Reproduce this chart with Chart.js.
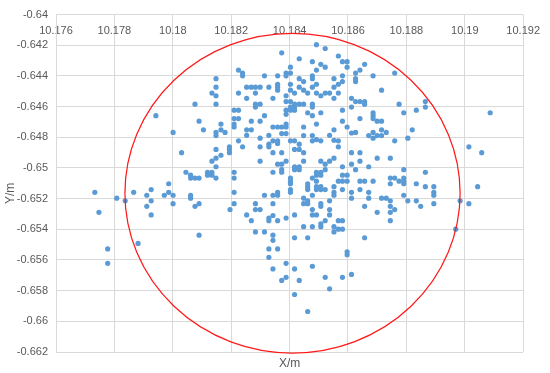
<!DOCTYPE html>
<html>
<head>
<meta charset="utf-8">
<script src="https://cdn.jsdelivr.net/npm/chart.js@4.4.1/dist/chart.umd.min.js"></script>
<style>
  html, body { margin: 0; padding: 0; background: #ffffff; }
  canvas { display: block; }
</style>
</head>
<body>
<canvas id="chart" width="550" height="373"></canvas>
<script>
// axis ranges and ticks
const xMin = 10.176, xMax = 10.192, xStep = 0.002;
const yMin = -0.662, yMax = -0.64, yStep = 0.002;
const xTitle = 'X/m';
const yTitle = 'Y/m';

// red circle drawn on the plot (centre and radii in axis units)
const circleCenterX = 10.18410;
const circleCenterY = -0.65165;
const circleRadiusX = 0.00574;
const circleRadiusY = 0.01042;

// measured points
const xValues = [
  10.17733, 10.17747, 10.17777, 10.17777, 10.17808, 10.17837, 10.17866, 10.17881, 10.17911, 10.17911,
  10.17926, 10.17926, 10.17926, 10.17942, 10.17971, 10.17986, 10.17986, 10.18001, 10.18001, 10.18001,
  10.18030, 10.18045, 10.18061, 10.18061, 10.18076, 10.18090, 10.18061, 10.18061, 10.18076, 10.18090,
  10.18090, 10.18076, 10.18090, 10.18105, 10.18119, 10.18119, 10.18134, 10.18134, 10.18148, 10.18134,
  10.18148, 10.18165, 10.18148, 10.18148, 10.18134, 10.18148, 10.18148, 10.18148, 10.18148, 10.18148,
  10.18148, 10.18165, 10.18165, 10.18179, 10.18194, 10.18194, 10.18194, 10.18210, 10.18225, 10.18210,
  10.18225, 10.18210, 10.18210, 10.18225, 10.18225, 10.18239, 10.18239, 10.18225, 10.18253, 10.18269,
  10.18283, 10.18299, 10.18283, 10.18253, 10.18283, 10.18299, 10.18283, 10.18314, 10.18359, 10.18373,
  10.18329, 10.18359, 10.18359, 10.18359, 10.18343, 10.18314, 10.18269, 10.18299, 10.18253, 10.18269,
  10.18253, 10.18299, 10.18343, 10.18359, 10.18373, 10.18373, 10.18329, 10.18343, 10.18359, 10.18403,
  10.18388, 10.18403, 10.18388, 10.18403, 10.18403, 10.18388, 10.18417, 10.18388, 10.18403, 10.18417,
  10.18403, 10.18417, 10.18403, 10.18417, 10.18433, 10.18448, 10.18388, 10.18388, 10.18388, 10.18388,
  10.18388, 10.18403, 10.18417, 10.18433, 10.18433, 10.18448, 10.18433, 10.18448, 10.18462, 10.18478,
  10.18492, 10.18522, 10.18507, 10.18522, 10.18492, 10.18478, 10.18478, 10.18478, 10.18492, 10.18492,
  10.18507, 10.18522, 10.18537, 10.18552, 10.18552, 10.18567, 10.18581, 10.18581, 10.18567, 10.18552,
  10.18567, 10.18581, 10.18597, 10.18597, 10.18626, 10.18641, 10.18626, 10.18626, 10.18657, 10.18686,
  10.18760, 10.18715, 10.18612, 10.18626, 10.18641, 10.18657, 10.18657, 10.18612, 10.18775, 10.18865,
  10.18865, 10.18834, 10.18791, 10.19087, 10.18686, 10.18686, 10.18686, 10.18641, 10.18700, 10.18715,
  10.18715, 10.18731, 10.18820, 10.18626, 10.18686, 10.18671, 10.18700, 10.18715, 10.18686, 10.18760,
  10.18805, 10.18462, 10.18478, 10.18478, 10.18478, 10.18507, 10.18581, 10.18448, 10.18492, 10.18581,
  10.18552, 10.18597, 10.18612, 10.18448, 10.18478, 10.18492, 10.18552, 10.18567, 10.18537, 10.18507,
  10.18567, 10.18239, 10.18299, 10.18329, 10.18329, 10.18359, 10.18417, 10.18433, 10.18433, 10.18448,
  10.18478, 10.18612, 10.18641, 10.18299, 10.18343, 10.18373, 10.18359, 10.18373, 10.18388, 10.18373,
  10.18373, 10.18343, 10.18417, 10.18417, 10.18433, 10.18433, 10.18448, 10.18507, 10.18522, 10.18537,
  10.18552, 10.18581, 10.18612, 10.18641, 10.18210, 10.18210, 10.18403, 10.18403, 10.18403, 10.18403,
  10.18403, 10.18492, 10.18507, 10.18522, 10.18492, 10.18507, 10.18478, 10.18492, 10.18462, 10.18462,
  10.18462, 10.18492, 10.18507, 10.18492, 10.18507, 10.18522, 10.18552, 10.18552, 10.18552, 10.18567,
  10.18581, 10.18597, 10.18581, 10.18597, 10.18581, 10.18612, 10.18612, 10.18210, 10.18210, 10.18196,
  10.18314, 10.18343, 10.18359, 10.18359, 10.18343, 10.18448, 10.18462, 10.18448, 10.18462, 10.18478,
  10.18283, 10.18283, 10.18299, 10.18253, 10.18269, 10.18329, 10.18329, 10.18343, 10.18359, 10.18388,
  10.18417, 10.18478, 10.18478, 10.18492, 10.18507, 10.18507, 10.18537, 10.18537, 10.18537, 10.18522,
  10.18507, 10.18507, 10.18448, 10.18478, 10.18567, 10.18581, 10.18552, 10.18552, 10.18567, 10.18581,
  10.18283, 10.18314, 10.18343, 10.18343, 10.18417, 10.18462, 10.18657, 10.18329, 10.18359, 10.18329,
  10.18597, 10.18597, 10.18388, 10.18478, 10.18343, 10.18417, 10.18388, 10.18373, 10.18433, 10.18522,
  10.18581, 10.18612, 10.18537, 10.18417, 10.18462, 10.19014, 10.19058, 10.18700, 10.18745, 10.18626,
  10.18671, 10.18791, 10.18865, 10.18641, 10.18657, 10.18686, 10.18745, 10.18760, 10.18745, 10.18775,
  10.18791, 10.18791, 10.18791, 10.18834, 10.18865, 10.18894, 10.18894, 10.18894, 10.19044, 10.18641,
  10.18671, 10.18671, 10.18715, 10.18731, 10.18791, 10.18745, 10.18805, 10.18834, 10.18984, 10.19014,
  10.18894, 10.18849, 10.18657, 10.18745, 10.18760, 10.18700, 10.18745, 10.18745, 10.18969
];
const yValues = [
  -0.65159, -0.65289, -0.65528, -0.65622, -0.65197, -0.65214, -0.65159, -0.65492, -0.65178, -0.65250,
  -0.65141, -0.65214, -0.65306, -0.64659, -0.65178, -0.65159, -0.65103, -0.64768, -0.65178, -0.65233,
  -0.64900, -0.65028, -0.65047, -0.65066, -0.65066, -0.65066, -0.65178, -0.65197, -0.65250, -0.65233,
  -0.65438, -0.64584, -0.64695, -0.64751, -0.65028, -0.65047, -0.65028, -0.65047, -0.65066, -0.64956,
  -0.64936, -0.64917, -0.64992, -0.64879, -0.64512, -0.64418, -0.64473, -0.64529, -0.64584, -0.64768,
  -0.64789, -0.64714, -0.64751, -0.64768, -0.64862, -0.64879, -0.64900, -0.64623, -0.64623, -0.64678,
  -0.64678, -0.64714, -0.64733, -0.64823, -0.64362, -0.64381, -0.64399, -0.64512, -0.64473, -0.64473,
  -0.64473, -0.64473, -0.64512, -0.64546, -0.64584, -0.64584, -0.64603, -0.64399, -0.64399, -0.64249,
  -0.64473, -0.64454, -0.64473, -0.64493, -0.64546, -0.64659, -0.64695, -0.64695, -0.64751, -0.64751,
  -0.64787, -0.64806, -0.64733, -0.64733, -0.64733, -0.64776, -0.64787, -0.64823, -0.64823, -0.64343,
  -0.64381, -0.64381, -0.64399, -0.64454, -0.64493, -0.64529, -0.64512, -0.64567, -0.64567, -0.64584,
  -0.64603, -0.64603, -0.64623, -0.64623, -0.64584, -0.64584, -0.64623, -0.64650, -0.64714, -0.64733,
  -0.64776, -0.64823, -0.64823, -0.64288, -0.64418, -0.64437, -0.64473, -0.64493, -0.64512, -0.64307,
  -0.64196, -0.64221, -0.64324, -0.64343, -0.64362, -0.64399, -0.64418, -0.64473, -0.64454, -0.64512,
  -0.64529, -0.64512, -0.64512, -0.64418, -0.64473, -0.64454, -0.64437, -0.64399, -0.64512, -0.64546,
  -0.64270, -0.64307, -0.64307, -0.64343, -0.64381, -0.64362, -0.64418, -0.64437, -0.64324, -0.64399,
  -0.64381, -0.64493, -0.64546, -0.64567, -0.64567, -0.64567, -0.64584, -0.64603, -0.64584, -0.64567,
  -0.64603, -0.64623, -0.64640, -0.64640, -0.64640, -0.64659, -0.64678, -0.64678, -0.64695, -0.64695,
  -0.64751, -0.64768, -0.64751, -0.64768, -0.64768, -0.64789, -0.64789, -0.64789, -0.64806, -0.64823,
  -0.64806, -0.64640, -0.64584, -0.64603, -0.64659, -0.64640, -0.64623, -0.64733, -0.64714, -0.64695,
  -0.64751, -0.64733, -0.64772, -0.64789, -0.64789, -0.64815, -0.64820, -0.64823, -0.64787, -0.64823,
  -0.64862, -0.64862, -0.64862, -0.64845, -0.64862, -0.64840, -0.64879, -0.64879, -0.64845, -0.64900,
  -0.64823, -0.64900, -0.64900, -0.64956, -0.64900, -0.64900, -0.64975, -0.64975, -0.64956, -0.65011,
  -0.65028, -0.65028, -0.64992, -0.65011, -0.64992, -0.65011, -0.64956, -0.64956, -0.64975, -0.64956,
  -0.64936, -0.64992, -0.64975, -0.64956, -0.65028, -0.65066, -0.65066, -0.65086, -0.65103, -0.65141,
  -0.65159, -0.65028, -0.65028, -0.65011, -0.65047, -0.65047, -0.65066, -0.65086, -0.65103, -0.65122,
  -0.65141, -0.65122, -0.65122, -0.65141, -0.65141, -0.65141, -0.65122, -0.65159, -0.65178, -0.65086,
  -0.65047, -0.65047, -0.65086, -0.65086, -0.65141, -0.65159, -0.65197, -0.65159, -0.65233, -0.65271,
  -0.65178, -0.65178, -0.65159, -0.65178, -0.65233, -0.65197, -0.65214, -0.65233, -0.65233, -0.65178,
  -0.65233, -0.65271, -0.65271, -0.65306, -0.65344, -0.65327, -0.65344, -0.65310, -0.65344, -0.65327,
  -0.65306, -0.65271, -0.65306, -0.65306, -0.65233, -0.65250, -0.65214, -0.65271, -0.65306, -0.65344,
  -0.65364, -0.65383, -0.65383, -0.65383, -0.65344, -0.65344, -0.65383, -0.65417, -0.65399, -0.65399,
  -0.65417, -0.65417, -0.65438, -0.65472, -0.65455, -0.65455, -0.65455, -0.65528, -0.65528, -0.65583,
  -0.65547, -0.65566, -0.65622, -0.65641, -0.65658, -0.65658, -0.65713, -0.65733, -0.65733, -0.65713,
  -0.65713, -0.65694, -0.65788, -0.65825, -0.65936, -0.64862, -0.64900, -0.64936, -0.64936, -0.65011,
  -0.64992, -0.65011, -0.65028, -0.65086, -0.65086, -0.65086, -0.65066, -0.65066, -0.65103, -0.65086,
  -0.65066, -0.65086, -0.65103, -0.65103, -0.65122, -0.65122, -0.65159, -0.65178, -0.65122, -0.65141,
  -0.65159, -0.65197, -0.65197, -0.65197, -0.65178, -0.65214, -0.65214, -0.65214, -0.65214, -0.65233,
  -0.65233, -0.65250, -0.65250, -0.65250, -0.65271, -0.65289, -0.65289, -0.65344, -0.65399
];

const points = xValues.map((x, i) => ({ x: x, y: yValues[i] }));

const textColor = '#595959';
const gridColor = '#d9d9d9';
const fontFamily = '"Liberation Sans", Arial, sans-serif';

function trimNumber(v) {
    return String(Number(v.toFixed(3)));
}

// dessine l'ellipse rouge avec les échelles du graphique
const circlePlugin = {
    id: 'redCircle',
    afterDatasetsDraw(chart) {
        const ctx = chart.ctx;
        const xs = chart.scales.x;
        const ys = chart.scales.y;
        const cx = xs.getPixelForValue(circleCenterX);
        const cy = ys.getPixelForValue(circleCenterY);
        const rx = Math.abs(xs.getPixelForValue(circleCenterX + circleRadiusX) - cx);
        const ry = Math.abs(ys.getPixelForValue(circleCenterY + circleRadiusY) - cy);
        ctx.save();
        ctx.beginPath();
        ctx.ellipse(cx, cy, rx, ry, 0, 0, Math.PI * 2);
        ctx.strokeStyle = '#ff1a1a';
        ctx.lineWidth = 1.25;
        ctx.stroke();
        ctx.restore();
    }
};

new Chart(document.getElementById('chart').getContext('2d'), {
    type: 'scatter',
    data: {
        datasets: [{
            data: points,
            backgroundColor: '#5b9bd5',
            borderWidth: 0,
            pointRadius: 2.6,
            pointHoverRadius: 2.6
        }]
    },
    options: {
        responsive: false,
        animation: false,
        devicePixelRatio: 1,
        layout: { padding: { top: 9, right: 20, bottom: 0, left: 0 } },
        plugins: {
            legend: { display: false },
            tooltip: { enabled: false }
        },
        scales: {
            x: {
                type: 'linear',
                position: { y: yMax },
                min: xMin,
                max: xMax,
                border: { display: false },
                grid: { color: gridColor, drawTicks: false },
                ticks: {
                    stepSize: xStep,
                    padding: 10,
                    color: textColor,
                    font: { family: fontFamily, size: 11 },
                    callback: v => trimNumber(v)
                }
            },
            x2: {
                type: 'linear',
                axis: 'x',
                position: 'bottom',
                min: xMin,
                max: xMax,
                border: { display: false },
                grid: { display: false },
                ticks: { display: false },
                title: {
                    display: true,
                    text: xTitle,
                    color: textColor,
                    font: { family: fontFamily, size: 12 },
                    padding: { top: 0, bottom: 2 }
                },
                afterFit: s => { s.height = 21; }
            },
            y: {
                type: 'linear',
                position: 'left',
                min: yMin,
                max: yMax,
                border: { display: true, color: gridColor },
                grid: { color: gridColor, drawTicks: false },
                ticks: {
                    stepSize: yStep,
                    padding: 8,
                    color: textColor,
                    font: { family: fontFamily, size: 11 },
                    callback: v => trimNumber(v)
                },
                title: {
                    display: true,
                    // trailing spaces push the rotated title a little lower, as in Excel
                    text: yTitle + '      ',
                    color: textColor,
                    font: { family: fontFamily, size: 12 },
                    padding: { top: 3, bottom: 0 }
                },
                afterFit: s => { s.width = 56; }
            }
        }
    },
    plugins: [circlePlugin]
});
</script>
</body>
</html>
